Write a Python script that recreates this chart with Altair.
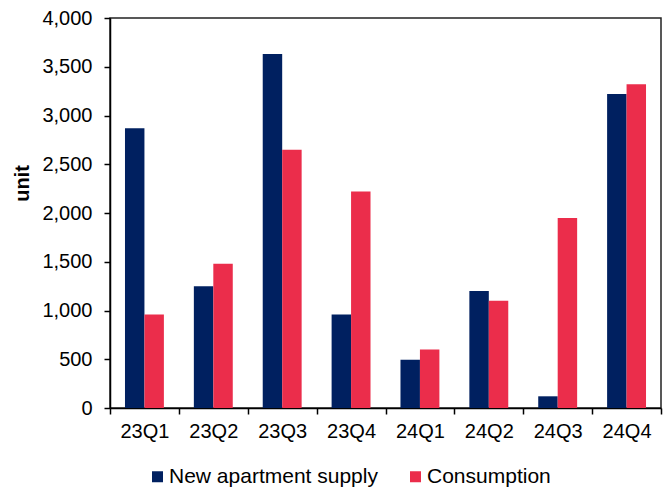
import altair as alt
import pandas as pd

# Quarterly apartment market figures (units)
quarters = ["23Q1", "23Q2", "23Q3", "23Q4", "24Q1", "24Q2", "24Q3", "24Q4"]
supply = [2870, 1250, 3630, 960, 495, 1200, 120, 3220]
consumption = [960, 1480, 2650, 2220, 600, 1100, 1950, 3320]
series = ["New apartment supply", "Consumption"]
colors = ["#002060", "#EB2D4B"]

rows = []
for q, s, c in zip(quarters, supply, consumption):
    rows.append({"quarter": q, "series": series[0], "units": s})
    rows.append({"quarter": q, "series": series[1], "units": c})
df = pd.DataFrame(rows)

FONT = "Liberation Sans"

chart = (
    alt.Chart(df)
    .mark_bar()
    .encode(
        x=alt.X(
            "quarter:N",
            sort=quarters,
            scale=alt.Scale(paddingInner=0, paddingOuter=0),
            axis=alt.Axis(
                title=None,
                labelAngle=0,
                tickBand="extent",
                tickSize=6,
                labelPadding=7,
                labelFontSize=20,
                domainWidth=1.5,
                tickWidth=1.5,
            ),
        ),
        xOffset=alt.XOffset(
            "series:N",
            sort=series,
            scale=alt.Scale(paddingInner=0, paddingOuter=0.77),
        ),
        y=alt.Y(
            "units:Q",
            scale=alt.Scale(domain=[0, 4000], nice=False),
            axis=alt.Axis(
                title="unit",
                values=list(range(0, 4001, 500)),
                format=",.0f",
                grid=False,
                tickSize=6,
                labelPadding=12,
                labelFontSize=20,
                titleFontSize=20,
                titleFontWeight="bold",
                titleX=-78,
                titleY=165,
                domainWidth=1.5,
                tickWidth=1.5,
            ),
        ),
        color=alt.Color(
            "series:N",
            sort=series,
            scale=alt.Scale(domain=series, range=colors),
            legend=alt.Legend(
                title=None,
                orient="none",
                direction="horizontal",
                legendX=37,
                legendY=448,
                symbolType="square",
                symbolSize=121,
                symbolStrokeWidth=0,
                labelFontSize=21,
                labelLimit=400,
                labelOffset=1,
                columnPadding=27,
            ),
        ),
    )
    .properties(
        width=551,
        height=390,
        autosize=alt.AutoSizeParams(type="none"),
        padding={"left": 110, "top": 18, "right": 6, "bottom": 83},
    )
    .configure(font=FONT)
    .configure_view(stroke="#222222", strokeWidth=1.5)
    .configure_axis(
        domainColor="black",
        tickColor="black",
        labelColor="black",
        titleColor="black",
        labelFont=FONT,
        titleFont=FONT,
    )
    .configure_legend(labelFont=FONT, labelColor="black")
)

chart.save("out.html", embed_options={"renderer": "svg", "actions": False})
